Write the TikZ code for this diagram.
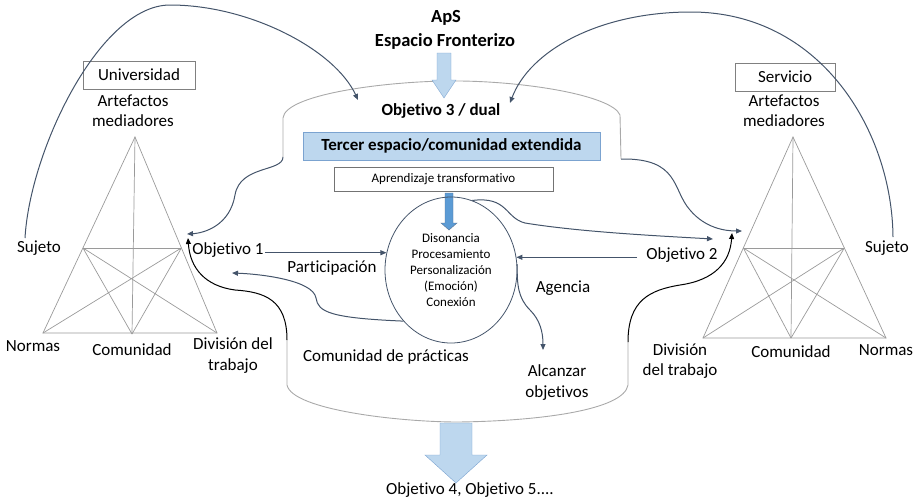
\documentclass[tikz,border=0pt]{standalone}
\usepackage{fontspec}
\setmainfont{Carlito}[Ligatures={NoCommon}]
\usetikzlibrary{arrows.meta, shapes.geometric, calc}

\definecolor{linkblue}{HTML}{44546A}
\definecolor{cloudgray}{HTML}{A9A9A9}
\definecolor{trigray}{HTML}{9A9A9A}
\definecolor{paleblue}{HTML}{BDD7EE}
\definecolor{midblue}{HTML}{5B9BD5}
\definecolor{edgeblue}{HTML}{7BA3D0}

\begin{document}
\begin{tikzpicture}[x=1pt, y=-1pt,
  txt/.style={font=\fontsize{17}{20.5}\selectfont, align=center, inner sep=1pt},
  smalltxt/.style={font=\fontsize{13}{16}\selectfont, align=center, inner sep=1pt},
  boldtxt/.style={font=\bfseries\fontsize{17}{20}\selectfont, inner sep=1pt},
  titletxt/.style={font=\bfseries\fontsize{18.5}{21}\selectfont, align=center, inner sep=1pt},
  namebox/.style={txt, draw=gray, minimum height=28pt},
  link/.style={draw=linkblue, line width=1pt, -{Triangle[length=6pt,width=5pt]}},
  darklink/.style={draw=black, line width=1pt, -{Triangle[length=6pt,width=5pt]}},
  tri/.style={draw=trigray, line width=0.7pt},
  cloud/.style={draw=cloudgray, line width=0.9pt}]

\useasboundingbox (0,0) rectangle (918,501);

% Title
\node[titletxt] (aps) at (446,18) {ApS};
\node[titletxt] (frontera) at (445,41) {Espacio Fronterizo};

% Cloud outline (top and bottom)
\coordinate (cloudTL) at (283,157);
\coordinate (cloudTR) at (621,159);
\coordinate (cloudBL) at (287,340);
\coordinate (cloudBR) at (628,342);
\draw[cloud] (cloudTL) -- (283,118) .. controls (285,95) and (380,82) .. (446,81)
  .. controls (520,80) and (612,95) .. (620,115) -- (cloudTR);
\draw[cloud] (cloudBL) -- (287,385) .. controls (292,410) and (400,422) .. (458,422)
  .. controls (540,421) and (624,410) .. (628,385) -- (cloudBR);

% Block arrows
\filldraw[fill=paleblue, draw=edgeblue] (437,53) -- (451,53) -- (451,80) -- (456,80)
  -- (444,98) -- (432,80) -- (437,80) -- cycle;
\filldraw[fill=midblue, draw=edgeblue!70!black] (445,193) -- (453,193) -- (453,223)
  -- (457,223) -- (449,230) -- (441,223) -- (445,223) -- cycle;
\filldraw[fill=paleblue, draw=edgeblue] (440,423) -- (472,423) -- (472,455) -- (487,455)
  -- (456,483) -- (425,455) -- (440,455) -- cycle;

% Middle boxes
\node[boldtxt] (obj3) at (441,111) {Objetivo 3 / dual};
\node[boldtxt, fill=paleblue, draw=edgeblue, minimum width=297pt, minimum height=28pt] (tercer) at (451.5,146) {Tercer espacio/comunidad extendida};
\node[smalltxt, draw=gray!90!black, minimum width=219pt, minimum height=24pt] (aprend) at (443.5,179) {Aprendizaje transformativo};

% Ellipse
\node[smalltxt, ellipse, draw=linkblue, line width=0.8pt, minimum width=132pt, minimum height=146pt, inner sep=0pt] (circ) at (451,270)
  {Disonancia\\Procesamiento\\Personalización\\(Emoción)\\Conexión};

% Left triangle (Universidad)
\coordinate (uA) at (135,137);
\coordinate (uN) at (43,333);
\coordinate (uD) at (217,333);
\coordinate (uC) at (132,334);
\coordinate (uS) at ($(uA)!0.566!(uN)$);
\coordinate (uO) at ($(uA)!0.566!(uD)$);
\draw[tri] (uA) -- (uN) -- (uD) -- cycle;
\draw[tri] (uA) -- (uC);
\draw[tri] (uS) -- (uO);
\draw[tri] (uS) -- (uD) (uS) -- (uC) (uO) -- (uN) (uO) -- (uC);

% Right triangle (Servicio)
\coordinate (sA) at (793,137);
\coordinate (sD) at (703,338);
\coordinate (sC) at (791,338);
\coordinate (sN) at (886,338);
\coordinate (sO) at ($(sA)!0.552!(sD)$);
\coordinate (sS) at ($(sA)!0.552!(sN)$);
\draw[tri] (sA) -- (sD) -- (sN) -- cycle;
\draw[tri] (sA) -- (sC);
\draw[tri] (sO) -- (sS);
\draw[tri] (sS) -- (sD) (sS) -- (sC) (sO) -- (sN) (sO) -- (sC);

% Left labels
\node[namebox, minimum width=112pt] (univ) at (139,75) {Universidad};
\node[txt] (uArt) at (133,110.5) {Artefactos\\mediadores};
\node[txt] (uSuj) at (39,248) {Sujeto};
\node[txt] (uNorm) at (33,346) {Normas};
\node[txt] (uCom) at (132,350) {Comunidad};
\node[txt] (uDiv) at (233,355.5) {División del\\trabajo};

% Right labels
\node[namebox, minimum width=100pt] (serv) at (785,77) {Servicio};
\node[txt] (sArt) at (784,110.5) {Artefactos\\mediadores};
\node[txt] (sSuj) at (887,248) {Sujeto};
\node[txt] (sNorm) at (886,350) {Normas};
\node[txt] (sCom) at (791,352) {Comunidad};
\node[txt] (sDiv) at (680,361) {División\\del trabajo};

% Middle labels
\node[txt] (obj1) at (228,250.5) {Objetivo 1};
\node[txt] (part) at (332,268.5) {Participación};
\node[txt] (cdp) at (386,357) {Comunidad de prácticas};
\node[txt] (agen) at (563,288) {Agencia};
\node[txt] (alc) at (557,382.5) {Alcanzar\\objetivos};
\node[txt] (obj2) at (682,255) {Objetivo 2};
\node[txt] (obj45) at (470,490) {Objetivo 4, Objetivo 5....};

% Arrow ends
\coordinate (arcL) at (25,238);
\coordinate (arcR) at (893,237);
\coordinate (obj3L) at (358,100);
\coordinate (obj3R) at (510,103);
\coordinate (uIn) at (187,234);
\coordinate (uUp) at (188,238);
\coordinate (pIn) at (232,273);
\coordinate (sIn) at (742,231);
\coordinate (sUp) at (732,233);
\coordinate (s2In) at (713,239);
\coordinate (agIn) at (543,350);

% Big arcs to Objetivo 3
\draw[link] (arcL) .. controls (30,150) and (100,5) .. (170,5)
  .. controls (250,5) and (335,50) .. (obj3L);
\draw[link] (arcR) .. controls (892,130) and (820,12) .. (691,12)
  .. controls (600,12) and (530,50) .. (obj3R);

% Shoulders of the cloud
\draw[link] (cloudTL) .. controls (283,172) and (240,165) .. (235,195)
  .. controls (230,225) and (205,233) .. (uIn);
\draw[link] (cloudTR) .. controls (680,158) and (672,190) .. (690,210)
  .. controls (705,228) and (725,231) .. (sIn);
\draw[darklink] (cloudBL) .. controls (287,300) and (265,292) .. (235,290)
  .. controls (205,286) and (190,268) .. (uUp);
\draw[darklink] (cloudBR) .. controls (628,300) and (650,290) .. (680,285)
  .. controls (715,280) and (730,262) .. (sUp);

% Around the ellipse
\draw[link] (obj1.east |- circ.165) -- (circ.165);
\draw[link] ([xshift=-8pt]obj2.west |- circ.11) -- (circ.11);
\draw[link] (circ.227) .. controls (330,318) and (318,312) .. (316,298)
  .. controls (313,280) and (260,274) .. (pIn);
\draw[link] (circ.73) .. controls (508,196) and (505,218) .. (525,223)
  .. controls (580,232) and (660,236) .. (s2In);
\draw[link] (circ.5) .. controls (517,285) and (518,298) .. (530,310)
  .. controls (540,320) and (543,332) .. (agIn);

\end{tikzpicture}
\end{document}
